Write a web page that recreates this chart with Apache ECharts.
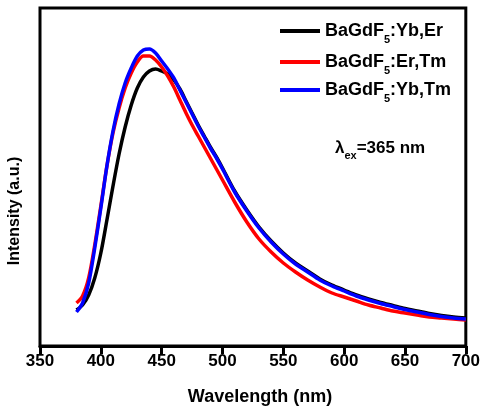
<!DOCTYPE html>
<html>
<head>
<meta charset="utf-8">
<script src="https://cdn.jsdelivr.net/npm/echarts@6/dist/echarts.min.js"></script>
<style>html,body{margin:0;padding:0;background:#fff}#c{width:483px;height:410px}</style>
</head>
<body>
<div id="c"></div>
<script>
var wavelengths = [380,385,390,395,400,405,410,415,420,425,430,435,440,445,450,455,460,465,470,475,480,485,490,495,500,510,520,530,540,550,560,570,580,590,600,610,620,630,640,650,660,670,680,690,700];
var ybEr = [36,41,51,68,93,126,160,192,219,241,258,269,275,277,275,272,266,257,245,233,221,210,199,189,178,155,136,119,105,93,83,75,67,61,56,51,47,43.5,40.5,37.5,35,32.5,30.5,29,28];
var erTm = [43,50,68,101,140,180,213,238,258,273,284,290,290,286,279,270,259,246,233,221,210,199,188,177,166,144,124,107,94,83,74,66,59,53,49,45,41,38,35,33,31,29,28,27,26];
var ybTm = [34,43,63,98,138,180,215,242,263,278,290,296,297,293,285,277,268,256,244,232,220,209,198,188,177,154,135,118,104,92,82,74,66,60,55,50,46,42.5,39.5,36.5,34,31.5,29.5,28,27];
var xTicks = [350,400,450,500,550,600,650,700];
var seriesNames = ['BaGdF5:Yb,Er','BaGdF5:Er,Tm','BaGdF5:Yb,Tm'];
var seriesColors = ['#000000','#ff0000','#0000ff'];

function zip(v){ return wavelengths.map(function(w,i){ return [w, v[i]]; }); }
var values = [ybEr, erTm, ybTm];
var font = '"Liberation Sans", Arial, sans-serif';

var chart = echarts.init(document.getElementById('c'));
var legendTops = [17, 48, 76];
var richLegend = {
  a: {fontSize: 18, fontWeight: 'bold', fontFamily: font, color: '#000'},
  s: {fontSize: 11, fontWeight: 'bold', fontFamily: font, color: '#000', verticalAlign: 'bottom', padding: [0,0,-5,0]}
};
function legendFmt(name){
  var parts = name.split('5');
  return '{a|' + parts[0] + '}{s|5}{a|' + parts[1] + '}';
}
chart.setOption({
  animation: false,
  grid: {left: 40, right: 14, top: 8, bottom: 64, show: true, borderColor: '#000', borderWidth: 3, backgroundColor: 'transparent'},
  xAxis: {
    type: 'value', min: xTicks[0], max: xTicks[xTicks.length-1], interval: 50,
    axisLine: {show: true, lineStyle: {color: '#000', width: 3}},
    axisTick: {show: true, length: 8, inside: false, lineStyle: {color: '#000', width: 3}},
    axisLabel: {color: '#000', fontSize: 17, fontWeight: 'bold', fontFamily: font, margin: 7},
    splitLine: {show: false}
  },
  yAxis: {
    type: 'value', min: 0, max: 338,
    axisLine: {show: false}, axisTick: {show: false}, axisLabel: {show: false}, splitLine: {show: false}
  },
  legend: seriesNames.map(function(n, i){
    return {
      data: [n], orient: 'vertical', left: 275, top: legendTops[i],
      icon: 'rect', itemWidth: 40, itemHeight: 4, itemGap: 5,
      formatter: legendFmt,
      textStyle: {rich: richLegend}
    };
  }),
  graphic: [
    {type: 'text', x: 260, y: 397, style: {text: 'Wavelength (nm)', font: 'bold 18px ' + font, fill: '#000', align: 'center', verticalAlign: 'middle'}},
    {type: 'text', x: 15, y: 211, rotation: Math.PI/2, style: {text: 'Intensity (a.u.)', font: 'bold 16px ' + font, fill: '#000', align: 'center', verticalAlign: 'middle'}},
    {type: 'text', x: 335, y: 148, style: {
      text: '{a|λ}{s|ex}{a|=365 nm}', verticalAlign: 'middle', align: 'left',
      rich: {
        a: {fontSize: 17, fontWeight: 'bold', fontFamily: font, fill: '#000'},
        s: {fontSize: 11, fontWeight: 'bold', fontFamily: font, fill: '#000', verticalAlign: 'bottom', padding: [0,0,-5,0]}
      }
    }}
  ],
  series: seriesNames.map(function(n, i){
    return {
      name: n, type: 'line', data: zip(values[i]), smooth: 0.3, symbol: 'none',
      lineStyle: {color: seriesColors[i], width: 3.5}, itemStyle: {color: seriesColors[i]},
      z: 2 + i
    };
  })
});
</script>
</body>
</html>
